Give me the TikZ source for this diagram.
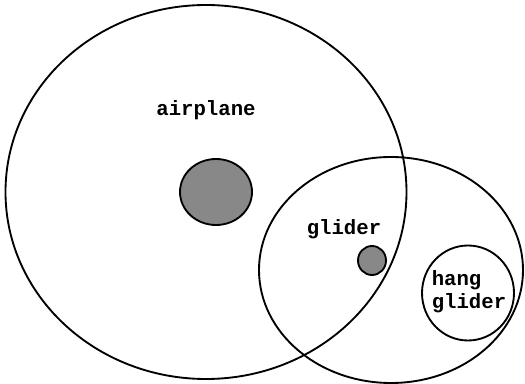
\documentclass[tikz,border=0pt]{standalone}
\usepackage{fontspec}
\setmonofont{Liberation Mono}
\usetikzlibrary{shapes.geometric}
\definecolor{dotgray}{RGB}{136,136,136}
\begin{document}
\begin{tikzpicture}[
  x=0.75pt, y=-0.75pt,
  setbox/.style={ellipse, draw, line width=1.4pt, inner sep=0pt},
  dotbox/.style={ellipse, draw, line width=1.4pt, fill=dotgray, inner sep=0pt},
  lbl/.style={font=\fontsize{15.5}{17}\selectfont\ttfamily\bfseries, align=left, inner sep=0pt},
]
\useasboundingbox (0,0) rectangle (525,384);

% ============================================================
% SETS
% ============================================================
\node[setbox, minimum width=401*0.75pt, minimum height=374*0.75pt] (airset) at (206,192) {};
\node[setbox, minimum width=264*0.75pt, minimum height=226*0.75pt] (gliderset) at (391,270) {};
\node[setbox, minimum width=92*0.75pt, minimum height=95*0.75pt] (hangset) at (468,293) {};

% ============================================================
% MEMBERS
% ============================================================
\node[dotbox, minimum width=72*0.75pt, minimum height=66*0.75pt] (airdot) at (216,192) {};
\node[dotbox, minimum width=28*0.75pt, minimum height=29*0.75pt] (gliderdot) at (372,260.5) {};

% ============================================================
% LABELS
% ============================================================
\node[lbl] (airlbl) at (206,110) {airplane};
\node[lbl] (gliderlbl) at (344,229) {glider};
\node[lbl] (hanglbl) at (469,292) {hang\\glider};

\end{tikzpicture}
\end{document}
